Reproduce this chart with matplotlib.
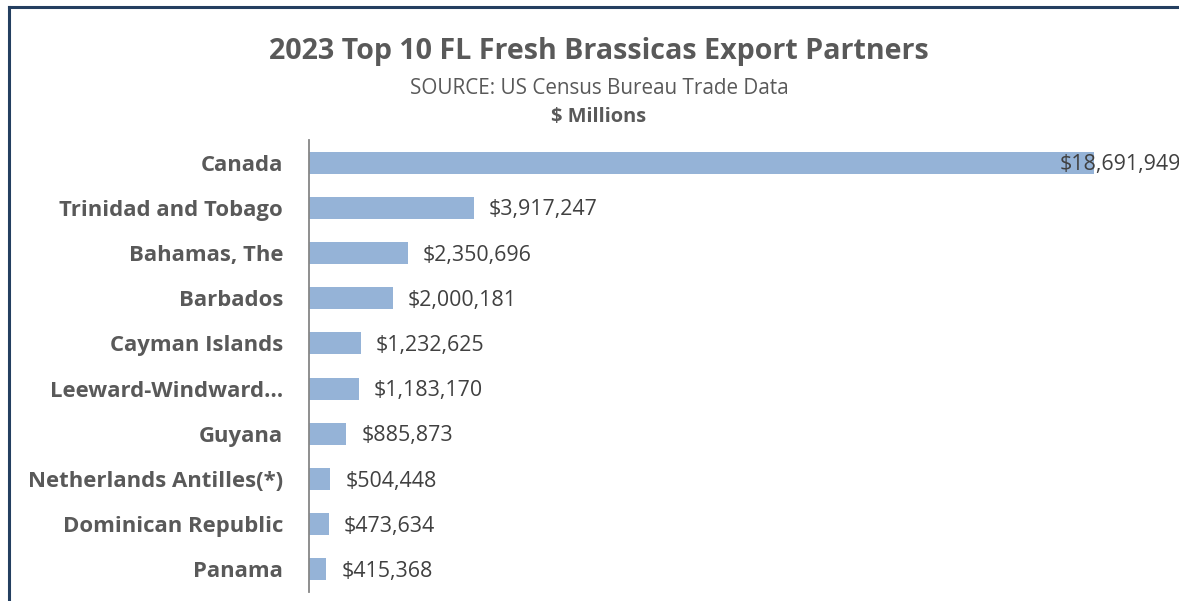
import matplotlib.pyplot as plt
import matplotlib.lines as mlines

plt.rcParams['font.family'] = ['Open Sans', 'DejaVu Sans']

countries = ["Canada", "Trinidad and Tobago", "Bahamas, The", "Barbados",
             "Cayman Islands", "Leeward-Windward…", "Guyana",
             "Netherlands Antilles(*)", "Dominican Republic", "Panama"]
values = [18691949, 3917247, 2350696, 2000181, 1232625, 1183170,
          885873, 504448, 473634, 415368]

TEXT = "#595959"
BAR = "#95b3d7"

fig = plt.figure(figsize=(11.79, 6.01), dpi=100)
ax = fig.add_axes([309 / 1179, 9 / 601, 870 / 1179, 452 / 601])

y = list(range(len(countries)))
ax.barh(y, values, height=0.49, color=BAR, edgecolor="none")
ax.set_ylim(len(countries) - 0.5, -0.5)
ax.set_xlim(0, max(values) * 870 / 785)

ax.set_yticks(y)
ax.set_yticklabels(countries, fontsize=15.9, fontweight="bold", color=TEXT)
ax.tick_params(axis="y", length=0, pad=18.7)
ax.set_xticks([])
for s in ["top", "right", "bottom"]:
    ax.spines[s].set_visible(False)
ax.spines["left"].set_color("#868686")
ax.spines["left"].set_linewidth(1.3)

# value labels; the largest one sits over the end of its bar, as in the original
vmax = max(values)
for yi, v in zip(y, values):
    off = -34 if v == vmax else 15
    ax.annotate(f"${v:,}", (v, yi), xytext=(off, -2), textcoords="offset pixels",
                va="center", ha="left", fontsize=15.4, color="#404040",
                annotation_clip=False)

fig.text(599 / 1179, 1 - 52 / 601, "2023 Top 10 FL Fresh Brassicas Export Partners",
         ha="center", va="center", fontsize=20.6, fontweight="bold", color=TEXT)
fig.text(599 / 1179, 1 - 89 / 601, "SOURCE: US Census Bureau Trade Data",
         ha="center", va="center", fontsize=14.9, color=TEXT)
fig.text(599 / 1179, 1 - 117 / 601, "$ Millions",
         ha="center", va="center", fontsize=14.4, fontweight="bold", color=TEXT)

# chart border (left and top edges visible)
border = "#243f60"
fig.add_artist(mlines.Line2D([8.5 / 1179, 8.5 / 1179], [0, 1 - 7 / 601],
                             color=border, lw=2.2, transform=fig.transFigure))
fig.add_artist(mlines.Line2D([8.5 / 1179, 1], [1 - 7 / 601, 1 - 7 / 601],
                             color=border, lw=2.2, transform=fig.transFigure))

fig.savefig("out.png", dpi=100, facecolor="white")
